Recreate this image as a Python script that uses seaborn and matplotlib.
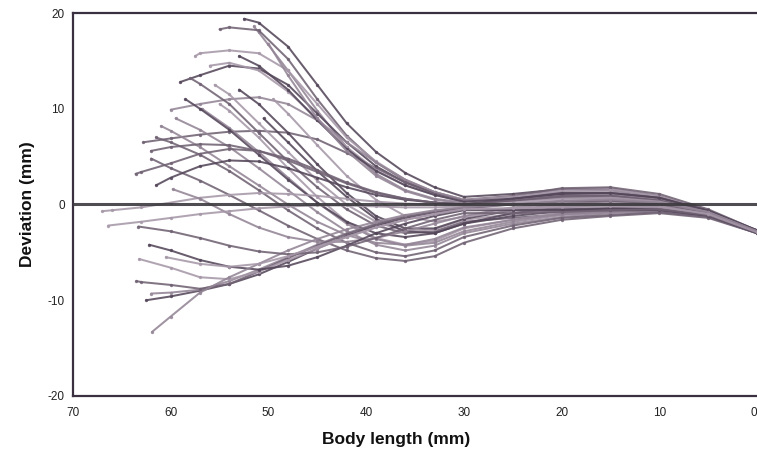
import matplotlib
matplotlib.use("Agg")
import matplotlib.pyplot as plt
import seaborn as sns
import pandas as pd

# Body-length stations (mm from head) at which each midline deviation was read
stations = [0, 5, 10, 15, 20, 25, 30, 33, 36, 39, 42, 45, 48, 51, 54, 57, 60, 63, 66]

# Tail position (body length, deviation) of each traced midline
tail_length = [52.5, 51.5, 55.0, 57.5, 59.0, 60.0, 62.8, 56.0, 53.0, 50.0,
               58.0, 55.5, 53.0, 59.5, 61.5, 55.0, 50.5, 56.8, 62.0, 49.5, 58.5, 61.0,
               63.6, 67.0, 61.5, 59.8, 62.0, 66.4,
               62.5, 62.0, 63.5, 63.2, 62.2, 61.9, 63.3, 60.5]
tail_deviation = [19.4, 18.6, 18.3, 15.5, 12.8, 9.9, 6.5, 14.5, 15.5, 16.8,
                  13.2, 12.5, 12.0, 9.0, 7.0, 10.5, 9.0, 10.0, 4.8, 11.0, 11.0, 8.2,
                  3.2, -0.7, 2.0, 1.6, 5.6, -2.2,
                  -10.0, -9.3, -8.0, -5.7, -4.2, -13.3, -2.3, -5.5]

# Deviation (mm) at each station, head first
upper_midlines = [
    [-2.9, -0.8, 0.7, 1.5, 1.6, 1.1, 0.8, 1.8, 3.3, 5.5, 8.5, 12.5, 16.5, 19.0],
    [-2.8, -0.6, 0.9, 1.7, 1.6, 0.7, 0.2, 0.6, 1.5, 3.2, 6.0, 9.8, 14.0, 18.0],
    [-2.7, -0.5, 1.1, 1.8, 1.7, 0.9, 0.5, 1.3, 2.5, 4.4, 7.2, 11.0, 15.2, 18.2, 18.5],
    [-2.8, -0.7, 0.6, 1.3, 1.3, 0.8, 0.5, 1.3, 2.6, 4.5, 7.0, 10.5, 14.0, 15.8, 16.1, 15.8],
    [-2.9, -0.9, 0.4, 1.0, 1.0, 0.6, 0.4, 1.2, 2.3, 4.0, 6.5, 9.5, 12.5, 14.2, 14.5, 13.5],
    [-2.8, -0.8, 0.5, 1.1, 1.2, 0.7, 0.4, 1.3, 2.6, 4.4, 6.5, 8.8, 10.5, 11.2, 11.0, 10.5],
    [-2.9, -1.0, 0.2, 0.7, 0.7, 0.4, 0.3, 1.1, 2.3, 3.8, 5.4, 6.8, 7.5, 7.7, 7.6, 7.3, 6.9],
    [-2.7, -0.6, 0.8, 1.5, 1.4, 0.7, 0.3, 1.0, 2.0, 3.6, 6.0, 9.0, 11.8, 14.0, 14.8],
    [-2.8, -0.7, 0.7, 1.2, 1.1, 0.6, 0.3, 1.0, 2.0, 3.5, 5.8, 8.8, 12.0, 14.5],
    [-2.9, -0.8, 0.5, 1.0, 0.9, 0.4, 0.1, 0.5, 1.4, 3.0, 5.6, 9.0, 13.5],
]
crossing_midlines = [
    [-2.8, -1.0, -0.5, -0.7, -1.0, -1.4, -1.8, -2.8, -3.0, -2.2, -0.5, 1.8, 4.5, 7.5, 10.5, 12.6],
    [-2.9, -0.9, -0.2, -0.3, -0.5, -1.0, -1.6, -2.6, -2.8, -1.8, 0.0, 2.5, 5.5, 8.5, 11.5],
    [-2.7, -0.7, 0.2, 0.3, 0.0, -0.6, -1.5, -2.5, -2.5, -1.2, 1.2, 4.2, 7.5, 10.5],
    [-2.9, -1.2, -0.7, -0.9, -1.3, -2.0, -3.0, -4.3, -4.8, -4.2, -2.8, -0.8, 1.5, 3.8, 6.0, 7.8],
    [-3.0, -1.3, -0.8, -1.1, -1.4, -2.2, -3.4, -4.8, -5.4, -5.0, -4.0, -2.5, -0.6, 1.5, 3.5, 5.2, 6.5],
    [-2.8, -1.0, -0.4, -0.6, -0.9, -1.6, -2.5, -3.8, -4.2, -3.5, -1.8, 0.8, 3.8, 7.0, 9.8],
    [-2.8, -0.8, 0.0, 0.0, -0.3, -0.9, -2.0, -3.0, -2.8, -1.5, 0.8, 3.5, 6.5],
    [-2.9, -1.1, -0.6, -0.8, -1.1, -1.8, -2.8, -4.0, -4.3, -3.6, -2.0, 0.2, 2.8, 5.5, 8.0],
    [-3.0, -1.4, -0.9, -1.2, -1.6, -2.5, -4.0, -5.4, -5.9, -5.6, -4.8, -3.6, -2.2, -0.6, 1.0, 2.5, 3.8],
    [-2.8, -0.8, 0.1, 0.2, -0.1, -0.6, -1.3, -1.8, -1.2, 0.5, 3.0, 6.2, 9.5],
    [-2.7, -0.9, -0.3, -0.4, -0.7, -1.2, -2.0, -3.0, -3.4, -3.0, -1.8, 0.2, 2.6, 5.2, 7.8, 10.0],
    [-2.9, -1.1, -0.5, -0.7, -1.0, -1.6, -2.4, -3.6, -4.2, -4.0, -3.2, -1.8, 0.0, 2.0, 4.0, 6.0, 7.7],
]
middle_midlines = [
    [-2.8, -0.7, 0.4, 0.9, 0.9, 0.4, 0.0, 0.2, 0.6, 1.3, 2.3, 3.6, 4.8, 5.6, 5.8, 5.3, 4.3, 3.4],
    [-2.9, -0.9, 0.1, 0.5, 0.4, 0.0, -0.1, 0.0, 0.1, 0.3, 0.6, 0.9, 1.1, 1.2, 1.0, 0.7, 0.2, -0.3, -0.6],
    [-2.7, -0.6, 0.7, 1.2, 1.2, 0.6, 0.0, 0.2, 0.5, 1.0, 1.8, 2.8, 3.8, 4.5, 4.6, 4.0, 2.8],
    [-2.9, -0.9, 0.1, 0.4, 0.1, -0.3, -1.2, -2.0, -2.8, -3.5, -3.9, -3.9, -3.4, -2.4, -1.0, 0.6],
    [-2.8, -0.8, 0.4, 0.9, 0.8, 0.4, 0.0, 0.2, 0.6, 1.2, 2.2, 3.4, 4.6, 5.6, 6.2, 6.3, 6.0],
    [-2.8, -0.8, 0.3, 0.7, 0.6, 0.2, -0.2, -0.3, -0.3, -0.2, -0.1, -0.1, -0.2, -0.4, -0.7, -1.0, -1.4, -1.8],
]
lower_midlines = [
    [-2.9, -1.1, -0.4, -0.4, -0.5, -0.5, -0.4, -0.8, -1.4, -2.2, -3.3, -4.6, -6.0, -7.3, -8.3, -9.0, -9.6],
    [-3.0, -1.2, -0.6, -0.7, -0.7, -0.6, -0.3, -0.7, -1.2, -2.0, -3.0, -4.2, -5.5, -6.8, -8.0, -8.9, -9.2],
    [-2.8, -0.9, 0.1, 0.4, 0.3, 0.0, -0.4, -0.8, -1.3, -2.1, -3.1, -4.3, -5.6, -7.0, -8.3, -8.8, -8.4, -8.1],
    [-2.9, -1.0, -0.3, -0.2, -0.3, -0.4, -0.5, -1.0, -1.6, -2.4, -3.4, -4.6, -5.8, -7.0, -7.8, -7.6, -6.6],
    [-3.0, -1.2, -0.6, -0.6, -0.6, -0.6, -0.6, -1.2, -2.0, -3.0, -4.3, -5.5, -6.4, -6.8, -6.5, -5.8, -4.8],
    [-2.8, -0.8, 0.2, 0.5, 0.4, 0.0, -0.3, -0.6, -1.1, -1.8, -2.6, -3.6, -4.8, -6.2, -7.6, -9.2, -11.7],
    [-2.9, -1.1, -0.5, -0.6, -0.8, -0.9, -0.9, -1.6, -2.5, -3.5, -4.4, -5.0, -5.2, -4.9, -4.3, -3.5, -2.8],
    [-2.9, -1.0, -0.2, 0.0, -0.2, -0.4, -0.5, -1.0, -1.6, -2.4, -3.4, -4.4, -5.4, -6.2, -6.5, -6.2],
]

x_ticks = [70, 60, 50, 40, 30, 20, 10, 0]
y_ticks = [-20, -10, 0, 10, 20]

# ---- build long table ----
all_midlines = upper_midlines + crossing_midlines + middle_midlines + lower_midlines
rows = []
for i, devs in enumerate(all_midlines):
    for s, d in zip(stations[:len(devs)], devs):
        rows.append({"curve": i, "length": s, "deviation": d})
    rows.append({"curve": i, "length": tail_length[i], "deviation": tail_deviation[i]})
df = pd.DataFrame(rows)

sns.set_style("white")
plt.rcParams["font.family"] = ["Liberation Sans", "DejaVu Sans"]
plt.rcParams["axes.unicode_minus"] = False

fig = plt.figure(figsize=(7.57, 4.58), dpi=100)
ax = fig.add_axes([0.0964, 0.1354, 0.9036, 0.8362])

shades = ["#54475a", "#938596", "#706273", "#a698a8"]
palette = [shades[i % len(shades)] for i in range(len(all_midlines))]

sns.lineplot(data=df, x="length", y="deviation", hue="curve", units="curve",
             estimator=None, sort=False, palette=palette, legend=False,
             linewidth=1.45, alpha=0.88, marker="o", markersize=2.4,
             markeredgewidth=0, ax=ax)

ax.axhline(0, color="#3c3a3e", linewidth=2.2, zorder=5, alpha=0.9)

ax.set_xlim(70, 0)
ax.set_ylim(-20, 20)
ax.set_xticks(x_ticks)
ax.set_yticks(y_ticks)
ax.set_xticklabels([str(t) for t in x_ticks])
ax.set_yticklabels([str(t) for t in y_ticks])
ax.get_xticklabels()[-1].set_horizontalalignment("right")

for side in ["left", "bottom", "top"]:
    ax.spines[side].set_visible(True)
    ax.spines[side].set_color("#3a3040")
    ax.spines[side].set_linewidth(1.6)
ax.spines["right"].set_visible(False)

ax.tick_params(axis="y", direction="out", length=4, width=1.2, color="#3a3040",
               labelsize=8.5, labelcolor="#222222", pad=2)
ax.tick_params(axis="x", direction="in", length=3, width=1.5, color="#999999",
               labelsize=8.5, labelcolor="#222222", pad=8)

ax.set_xlabel("Body length (mm)", fontsize=12.5, fontweight="bold", color="#111111")
ax.set_ylabel("Deviation (mm)", fontsize=12.5, fontweight="bold", color="#111111",
              labelpad=9)
ax.xaxis.set_label_coords(0.472, -0.095)

fig.savefig("out.png", dpi=100)
